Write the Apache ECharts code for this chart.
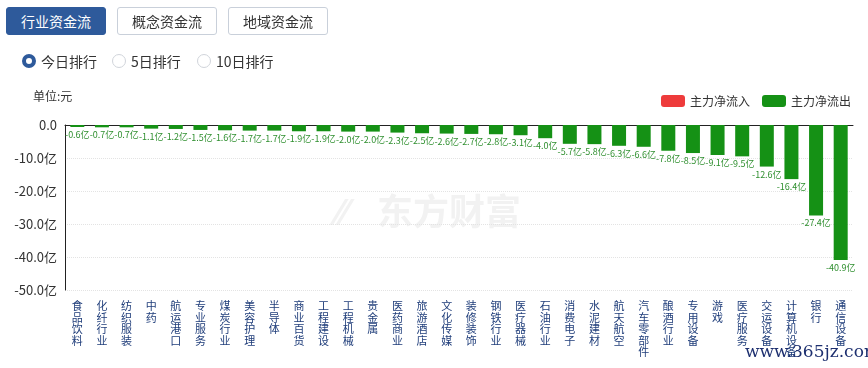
<!DOCTYPE html>
<html><head><meta charset="utf-8">
<script src="https://cdn.jsdelivr.net/npm/echarts@6/dist/echarts.min.js"></script>
<style>
html,body{margin:0;padding:0;background:#fff;font-family:"Noto Sans CJK SC","Noto Sans",sans-serif;}
#wrap{position:relative;width:868px;height:368px;overflow:hidden;}
#chart{position:absolute;left:0;top:0;width:868px;height:368px;}
.btn{position:absolute;top:7px;height:28px;width:100px;box-sizing:border-box;border:1px solid #c9d0da;border-radius:3px;background:#fff;color:#333;font-size:14px;line-height:26px;text-align:center;}
.btn.on{background:#2e5a9b;border-color:#2e5a9b;color:#fff;}
.radio{position:absolute;top:53px;font-size:14px;color:#333;line-height:16px;}
.radio i{position:absolute;left:-19px;top:1px;width:14px;height:14px;border:1px solid #d0d4da;border-radius:50%;box-sizing:border-box;background:#fff;}
.radio.on i{border:4px solid #2e5a9b;}
</style></head>
<body><div id="wrap">
<div id="chart"></div>
<div class="btn on" style="left:6px">行业资金流</div>
<div class="btn" style="left:117px">概念资金流</div>
<div class="btn" style="left:228px">地域资金流</div>
<div class="radio on" style="left:41px"><i></i>今日排行</div>
<div class="radio" style="left:131px"><i></i>5日排行</div>
<div class="radio" style="left:216px"><i></i>10日排行</div>
</div>
<script>
var categories = ["食品饮料","化纤行业","纺织服装","中药","航运港口","专业服务","煤炭行业","美容护理","半导体","商业百货","工程建设","工程机械","贵金属","医药商业","旅游酒店","文化传媒","装修装饰","钢铁行业","医疗器械","石油行业","消费电子","水泥建材","航天航空","汽车零部件","酿酒行业","专用设备","游戏","医疗服务","交运设备","计算机设备","银行","通信设备"];
var outflow = [-0.6,-0.7,-0.7,-1.1,-1.2,-1.5,-1.6,-1.7,-1.7,-1.9,-1.9,-2.0,-2.0,-2.3,-2.5,-2.6,-2.7,-2.8,-3.1,-4.0,-5.7,-5.8,-6.3,-6.6,-7.8,-8.5,-9.1,-9.5,-12.6,-16.4,-27.4,-40.9];
var inflow = categories.map(function(){return null;});
var legendNames = ["主力净流入","主力净流出"];
var unitText = "单位:元";

var chart = echarts.init(document.getElementById('chart'), null, {renderer:'canvas'});
var FONT = '"Noto Sans CJK SC", sans-serif';
chart.setOption({
  animation:false,
  textStyle:{fontFamily:FONT},
  graphic:[
    {type:'text', left:33, top:90, style:{text:unitText, fontSize:12, fill:'#333', fontFamily:FONT}},
    {type:'text', left:377, top:193, z:-1, style:{text:'东方财富', fontSize:36, fontWeight:'bold', fill:'#f2f2f2', fontFamily:FONT}},
    {type:'text', left:336, top:193, z:-1, style:{text:'⁄⁄', fontSize:36, fontWeight:'bold', fill:'#f2f2f2', fontFamily:FONT}},
    {type:'text', left:745, top:344, z:100, style:{text:'www.365jz.com', fontSize:17, fill:'#1d2f6f', fontFamily:'"DejaVu Serif", serif'}}
  ],
  legend:{
    right:12, top:90, itemWidth:24, itemHeight:12, itemGap:12,
    textStyle:{fontSize:12, color:'#333'},
    data:[{name:legendNames[0], itemStyle:{color:'#ee3b3b'}},{name:legendNames[1], itemStyle:{color:'#159115'}}]
  },
  grid:{left:65, right:15, top:125, bottom:78},
  xAxis:[{
    type:'category', data:categories, position:'bottom',
    axisLine:{show:false}, axisTick:{show:false},
    axisLabel:{interval:0, margin:10, fontSize:11, lineHeight:11.6, color:'#1f3d7a', verticalAlign:'top',
      formatter:function(v){return v.split('').join('\n');}}
  },{
    type:'category', data:categories, position:'top',
    axisLine:{show:true, onZero:false, lineStyle:{color:'#222', width:1}}, axisTick:{show:false}, axisLabel:{show:false}
  }],
  yAxis:{
    type:'value', min:-50, max:0, interval:10,
    axisLine:{show:true, lineStyle:{color:'#222'}}, axisTick:{show:false},
    axisLabel:{fontSize:13, color:'#333', margin:8, formatter:function(v){return v===0?'0.0':v.toFixed(1)+'亿';}},
    splitLine:{show:true, lineStyle:{color:'#e3e3e3', type:'dotted'}}
  },
  series:[
    {name:legendNames[0], type:'bar', data:inflow, barWidth:14, barGap:'-100%', itemStyle:{color:'#ee3b3b'}},
    {name:legendNames[1], type:'bar', data:outflow, barWidth:14, itemStyle:{color:'#159115'},
     label:{show:true, position:'bottom', distance:3, fontSize:9, color:'#2f8f2f',
       formatter:function(p){return p.value.toFixed(1)+'亿';}}}
  ]
});
</script>
</body></html>
